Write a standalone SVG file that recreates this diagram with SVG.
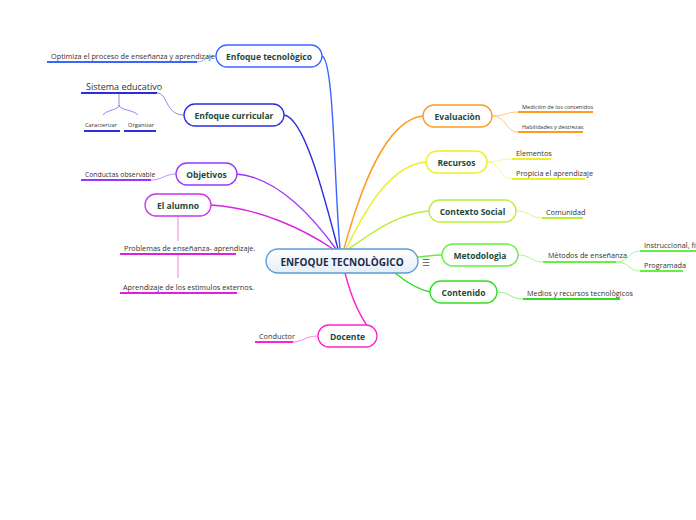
<svg xmlns="http://www.w3.org/2000/svg" width="696" height="520" viewBox="0 0 696 520">
<defs>
<linearGradient id="cg" x1="0" y1="0" x2="0" y2="1"><stop offset="0" stop-color="#ffffff"/><stop offset="1" stop-color="#e4eef8"/></linearGradient>
</defs>
<style>
.n{fill:#fff;stroke-width:1.3}
.t{font-family:"Open Sans","Noto Sans",sans-serif;font-weight:bold;font-size:8.5px;fill:#1d4a3b;text-anchor:middle;dominant-baseline:central}
.s{font-family:"Open Sans","Noto Sans",sans-serif;font-size:7.3px;fill:#333}
.c{fill:none;stroke-width:1.4}
.sc{fill:none;stroke-width:1;opacity:.55}
.u{stroke-width:2}
</style>
<rect width="696" height="520" fill="#fff"/>
<g id="connectors">
<path class="c" stroke="#3a66ff" d="M322,56 C334,60 334,180 340,249"/>
<path class="c" stroke="#2d2de0" d="M284,115 C305,118 325,200 338,249"/>
<path class="c" stroke="#9933ff" d="M237,174 C280,178 315,220 336,249"/>
<path class="c" stroke="#dd22dd" d="M211,205 C260,208 305,230 333,249"/>
<path class="c" stroke="#ff22cc" d="M345,273 C352,300 360,318 376,338"/>
<path class="c" stroke="#ff9922" d="M423,116 C385,120 360,190 344,249"/>
<path class="c" stroke="#eeee22" d="M426,162 C390,165 365,210 346,249"/>
<path class="c" stroke="#bbee33" d="M429,211 C395,214 370,235 348,249"/>
<path class="c" stroke="#66ee44" d="M418,257 C428,256 434,255 442,255"/>
<path class="c" stroke="#33dd22" d="M395,273 C410,285 420,290 430,292"/>
<path class="sc" stroke="#3a66ff" d="M216,56 C205,56 205,62 197,62"/>
<path class="sc" stroke="#2d2de0" d="M184,115 C165,115 168,93 157,93"/>
<path class="sc" stroke="#2d2de0" d="M119,93 L119,105 C119,110 106,110 103,115 M119,105 C119,110 134,110 138,115"/>
<path class="sc" stroke="#9933ff" d="M176,174 C165,174 162,180 151,180"/>
<path class="sc" stroke="#dd22dd" d="M178,215 L178,241 M178,254 L178,278"/>
<path class="sc" stroke="#ff22cc" d="M318,336 C305,336 303,342 293,342"/>
<path class="sc" stroke="#ff9922" d="M492,116 C507,116 505,112 518,112 M492,116 C507,116 505,132 518,132"/>
<path class="sc" stroke="#eeee22" d="M487,162 C500,162 500,159 512,159 M487,162 C500,162 500,179 512,179"/>
<path class="sc" stroke="#bbee33" d="M516,211 C530,211 530,218 542,218"/>
<path class="sc" stroke="#66ee44" d="M518,255 C532,255 530,262 543,262"/>
<path class="sc" stroke="#66ee44" d="M616,262 C630,262 628,251 640,251 M616,262 C630,262 628,271 640,271"/>
<path class="sc" stroke="#33dd22" d="M497,292 C510,292 510,299 523,299"/>
</g>
<g id="center">
<rect x="266" y="249" width="152" height="24" rx="12" fill="url(#cg)" stroke="#5b9bd5" stroke-width="1.3"/>
<text x="342" y="261.5" class="t" style="font-size:10px;fill:#1a2b4c">ENFOQUE TECNOLÒGICO</text>
<text x="426" y="262" class="t" style="font-size:9px;fill:#555;font-weight:normal">☰</text>
</g>
<g id="enfoque-tecnologico">
<rect class="n" x="216" y="45" width="106" height="22" rx="11" stroke="#3a66ff"/>
<text class="t" x="269" y="56">Enfoque tecnològico</text>
</g>
<g id="optimiza">
<text class="s" x="51" y="59">Optimiza el proceso de enseñanza y aprendizaje</text>
<line class="u" x1="47" y1="62" x2="197" y2="62" stroke="#3a66ff"/>
</g>
<g id="enfoque-curricular">
<rect class="n" x="184" y="104" width="100" height="22" rx="11" stroke="#2d2de0"/>
<text class="t" x="234" y="115">Enfoque curricular</text>
</g>
<g id="sistema">
<text class="s" x="86" y="90" style="font-size:9px">Sistema educativo</text>
<line class="u" x1="81" y1="93" x2="157" y2="93" stroke="#2d2de0"/>
</g>
<g id="caracterizar">
<text class="s" x="85" y="127" style="font-size:5.7px">Caracterizar</text>
<line class="u" x1="84" y1="131" x2="120" y2="131" stroke="#2d2de0"/>
</g>
<g id="organizar">
<text class="s" x="128" y="127" style="font-size:5.7px">Organizar</text>
<line class="u" x1="124" y1="131" x2="156" y2="131" stroke="#2d2de0"/>
</g>
<g id="objetivos">
<rect class="n" x="176" y="163" width="61" height="22" rx="11" stroke="#9933ff"/>
<text class="t" x="206.5" y="174">Objetivos</text>
</g>
<g id="conductas">
<text class="s" x="85" y="177" style="font-size:6.8px">Conductas observable</text>
<line class="u" x1="81" y1="180" x2="151" y2="180" stroke="#9933ff"/>
</g>
<g id="el-alumno">
<rect class="n" x="145" y="194" width="66" height="22" rx="11" stroke="#cc33ee"/>
<text class="t" x="178" y="205">El alumno</text>
</g>
<g id="problemas">
<text class="s" x="124" y="251">Problemas de enseñanza- aprendizaje.</text>
<line class="u" x1="120" y1="254" x2="236" y2="254" stroke="#dd22dd"/>
</g>
<g id="aprendizaje">
<text class="s" x="123" y="290">Aprendizaje de los estimulos externos.</text>
<line class="u" x1="120" y1="293" x2="237" y2="293" stroke="#dd22dd"/>
</g>
<g id="docente">
<rect class="n" x="318" y="325" width="59" height="22" rx="11" stroke="#ff22cc"/>
<text class="t" x="347.5" y="336">Docente</text>
</g>
<g id="conductor">
<text class="s" x="259" y="339">Conductor</text>
<line class="u" x1="255" y1="342" x2="293" y2="342" stroke="#ff22cc"/>
</g>
<g id="evaluacion">
<rect class="n" x="423" y="105" width="69" height="22" rx="11" stroke="#ff9922"/>
<text class="t" x="457.5" y="116">Evaluaciòn</text>
</g>
<g id="medicion">
<text class="s" x="522" y="108.5" style="font-size:5.6px">Mediciòn de los contenidos</text>
<line class="u" x1="518" y1="112" x2="593" y2="112" stroke="#ff9922"/>
</g>
<g id="habilidades">
<text class="s" x="522" y="128.5" style="font-size:5.6px">Habilidades y destrezas</text>
<line class="u" x1="518" y1="132" x2="583" y2="132" stroke="#ff9922"/>
</g>
<g id="recursos">
<rect class="n" x="426" y="151" width="61" height="22" rx="11" stroke="#eeee22"/>
<text class="t" x="456.5" y="162">Recursos</text>
</g>
<g id="elementos">
<text class="s" x="516" y="156">Elementos</text>
<line class="u" x1="512" y1="159" x2="551" y2="159" stroke="#eeee22"/>
</g>
<g id="propicia">
<text class="s" x="516" y="176">Propicia el aprendizaje</text>
<line class="u" x1="512" y1="179" x2="585" y2="179" stroke="#eeee22"/>
</g>
<g id="contexto-social">
<rect class="n" x="429" y="200" width="87" height="22" rx="11" stroke="#bbee33"/>
<text class="t" x="472.5" y="211">Contexto Social</text>
</g>
<g id="comunidad">
<text class="s" x="546" y="215">Comunidad</text>
<line class="u" x1="542" y1="218" x2="583" y2="218" stroke="#bbee33"/>
</g>
<g id="metodologia">
<rect class="n" x="442" y="244" width="76" height="22" rx="11" stroke="#66ee44"/>
<text class="t" x="480" y="255">Metodologìa</text>
</g>
<g id="metodos">
<text class="s" x="548" y="258">Mètodos de enseñanza</text>
<line class="u" x1="543" y1="262" x2="616" y2="262" stroke="#66ee44"/>
</g>
<g id="instruccional">
<text class="s" x="644" y="248">Instruccional, fi</text>
<line class="u" x1="640" y1="251" x2="696" y2="251" stroke="#66ee44"/>
</g>
<g id="programada">
<text class="s" x="644" y="268">Programada</text>
<line class="u" x1="640" y1="271" x2="683" y2="271" stroke="#66ee44"/>
</g>
<g id="contenido">
<rect class="n" x="430" y="281" width="67" height="22" rx="11" stroke="#33dd22"/>
<text class="t" x="463.5" y="292">Contenido</text>
</g>
<g id="medios">
<text class="s" x="527" y="296">Medios y recursos tecnològicos</text>
<line class="u" x1="523" y1="299" x2="620" y2="299" stroke="#33dd22"/>
</g>
</svg>
